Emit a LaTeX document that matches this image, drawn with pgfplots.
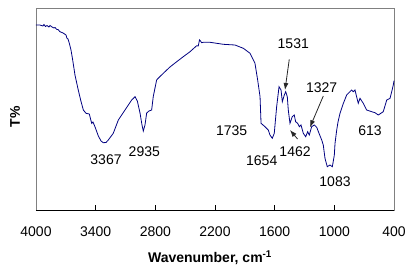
\documentclass[border=0pt]{standalone}
\usepackage{pgfplots}
\pgfplotsset{compat=1.18}
\usepackage{fontspec}
\setmainfont{Liberation Sans}
\usetikzlibrary{arrows.meta}
\definecolor{spec}{RGB}{0,0,128}
\definecolor{frame}{RGB}{128,128,128}
\begin{document}
\begin{tikzpicture}
\useasboundingbox (0,0) rectangle (414pt,-271pt);
\begin{axis}[
  at={(36pt,-210pt)}, anchor=south west,
  scale only axis, width=358pt, height=202pt,
  x dir=reverse, xmin=400, xmax=4000, ymin=0, ymax=202,
  xtick={4000,3400,2800,2200,1600,1000,400},
  xticklabels={4000,3400,2800,2200,1600,1000,400},
  xtick pos=bottom, ytick=\empty,
  tick align=inside, major tick length=5pt,
  tick style={black, line width=0.8pt},
  axis line style={frame, line width=0.8pt},
  xticklabel style={font=\fontsize{14}{16}\selectfont, yshift=-13pt},
  clip=false,
]
\addplot[spec, line width=0.8pt] coordinates {
(4000,185) (3960,185) (3930,184) (3920,185.5) (3905,183.5) (3889,184.5) (3870,183) (3859,184.5)
(3839,183) (3820,182) (3809,182.5) (3790,180.5) (3779,180.5) (3759,178.3) (3740,177.5) (3728,177)
(3698,175) (3690,172) (3678,171) (3665,166.7) (3648,160) (3631,150) (3608,135) (3575,120)
(3551,110) (3524,100) (3497,96.7) (3464,96) (3440,86.7) (3427,88) (3407,83.3) (3373,74)
(3346,69) (3323,67.3) (3296,67.5) (3273,70) (3223,76.7) (3172,90) (3105,100) (3038,110)
(3004,113.3) (2981,109) (2954,97) (2934,85) (2921,79) (2904,85) (2887,97) (2864,99)
(2837,100) (2821,113.3) (2787,130) (2771,131.7) (2720,136.7) (2653,143) (2585,148.3)
(2519,153.3) (2451,158.3) (2384,164.3) (2368,164) (2356,170) (2346,169) (2334,167.3)
(2318,167.7) (2250,167.7) (2183,166.7) (2116,165.7) (1999,165) (1915,161.7) (1848,156.7)
(1798,146.7) (1771,130) (1747,113.3) (1737,86.7) (1697,83.3) (1664,80) (1647,75) (1624,71.7)
(1604,76.7) (1580,103.3) (1556,123.3) (1536,120) (1523,108.3) (1503,115) (1489,118.3)
(1473,113.3) (1463,100) (1446,86.7) (1423,93.3) (1403,95) (1389,88.3) (1369,86.7)
(1352,83.3) (1335,85) (1312,76.7) (1288,73.3) (1268,78.3) (1252,75) (1228,83.3) (1201,85)
(1177,82.7) (1154,76.7) (1127,70) (1111,65) (1094,51.7) (1071,43.3) (1044,45) (1020,43.3)
(1000,55) (993,66.7) (976,80) (963,88) (943,96.7) (909,106.7) (876,115) (843,118.3)
(826,120) (810,118.3) (792,120) (776,113.3) (759,106.7) (742,111.7) (709,106.7) (675,100)
(624,98.3) (591,97.3) (558,95) (508,98.3) (473,110) (440,111.7) (423,118.3) (407,125) (400,129.3)
};
\draw[black, line width=0.8pt] (rel axis cs:0,0) -- (rel axis cs:1,0);
\begin{scope}[every node/.style={font=\fontsize{14}{16}\selectfont, inner sep=0pt}]
\node at (axis cs:3296,50.7) {3367};
\node at (axis cs:2911,58.3) {2935};
\node at (axis cs:2032,79.3) {1735};
\node at (axis cs:1730,49.3) {1654};
\node at (axis cs:1395,58.3) {1462};
\node at (axis cs:993,28.3) {1083};
\node at (axis cs:641,79.3) {613};
\node at (axis cs:1413,166.7) {1531};
\node at (axis cs:1127,122.7) {1327};
\end{scope}
\begin{scope}[line width=0.8pt, black!85, -{Latex[length=7pt,width=5pt]}]
\draw (axis cs:1453,150.7) -- (axis cs:1496,120);
\draw (axis cs:1111,114) -- (axis cs:1245,82.7);
\draw (axis cs:1370,71) -- (axis cs:1446,80);
\end{scope}
\end{axis}
\node[rotate=90, font=\bfseries\fontsize{14}{16}\selectfont] at (15pt,-117pt) {T\%};
\node[font=\bfseries\fontsize{14}{16}\selectfont] at (210pt,-257.7pt) {Wavenumber, cm\textsuperscript{-1}};
\end{tikzpicture}
\end{document}
